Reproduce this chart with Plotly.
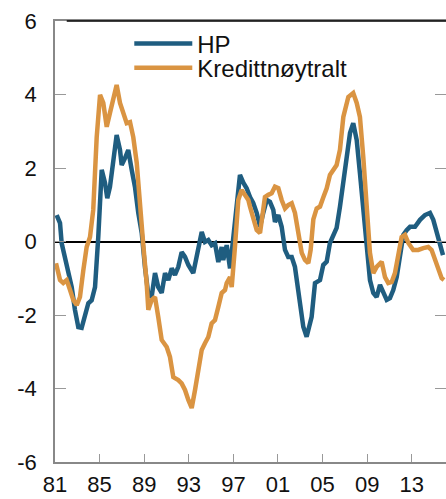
import plotly.graph_objects as go

# HP-filtered gap, decimal years
hp_year = [1981.15, 1981.45, 1981.60, 1981.90, 1982.19, 1982.50, 1982.79, 1983.09, 1983.39, 1983.69,
           1983.99, 1984.29, 1984.59, 1984.88, 1985.19, 1985.48, 1985.69, 1985.93, 1986.23, 1986.53,
           1986.83, 1986.98, 1987.28, 1987.57, 1987.88, 1988.17, 1988.47, 1988.78, 1989.07, 1989.37,
           1989.67, 1989.97, 1990.26, 1990.57, 1990.87, 1991.16, 1991.47, 1991.76, 1992.06, 1992.36,
           1992.66, 1992.96, 1993.40, 1993.71, 1994.16, 1994.45, 1994.75, 1995.05, 1995.35, 1995.65,
           1995.95, 1996.09, 1996.40, 1996.70, 1996.99, 1997.30, 1997.59, 1997.89, 1998.19, 1998.49,
           1998.78, 1999.09, 1999.39, 1999.68, 1999.99, 2000.28, 2000.58, 2000.73, 2001.03, 2001.33,
           2001.63, 2001.92, 2002.23, 2002.52, 2002.82, 2003.13, 2003.27, 2003.57, 2004.02, 2004.32,
           2004.77, 2005.06, 2005.37, 2005.66, 2005.96, 2006.26, 2006.56, 2006.86, 2007.16, 2007.46,
           2007.75, 2008.06, 2008.35, 2008.65, 2008.96, 2009.25, 2009.55, 2009.85, 2010.15, 2010.44,
           2010.75, 2011.04, 2011.34, 2011.65, 2011.94, 2012.24, 2012.54, 2012.84, 2013.29, 2013.74,
           2014.18, 2014.63, 2014.93, 2015.23, 2015.53, 2015.80]
hp_val = [0.72, 0.50, -0.05, -0.42, -0.78, -1.24, -1.86, -2.33, -2.35, -2.05,
          -1.68, -1.60, -1.24, 0.12, 1.95, 1.60, 1.18, 1.49, 2.30, 2.90,
          2.49, 2.08, 2.27, 2.49, 1.95, 1.49, 0.78, 0.23, -0.70, -1.45,
          -1.50, -0.86, -1.24, -1.40, -0.86, -1.05, -0.73, -0.91, -0.69, -0.29,
          -0.42, -0.64, -0.86, -0.42, 0.26, -0.01, 0.04, -0.10, -0.05, -0.56,
          -0.15, -0.50, -0.10, -0.73, 0.12, 1.13, 1.81, 1.60, 1.45, 1.21,
          1.05, 0.78, 0.40, 0.78, 1.13, 1.08, 0.86, 0.53, 0.72, 0.40,
          -0.23, -0.42, -0.42, -0.69, -1.32, -2.14, -2.32, -2.59, -2.05, -1.13,
          -1.05, -0.64, -0.55, -0.04, 0.18, 0.37, 0.95, 1.67, 2.41, 2.95,
          3.22, 2.76, 1.86, 0.78, -0.31, -1.05, -1.40, -1.51, -1.18, -1.40,
          -1.59, -1.54, -1.32, -0.97, -0.31, 0.18, 0.31, 0.40, 0.40, 0.59,
          0.72, 0.78, 0.59, 0.23, -0.15, -0.37]

# Credit-neutral gap
kn_year = [1981.09, 1981.45, 1981.74, 1982.05, 1982.35, 1982.64, 1982.95, 1983.24, 1983.54, 1983.84,
           1984.14, 1984.43, 1984.74, 1985.04, 1985.33, 1985.64, 1985.93, 1986.23, 1986.53, 1986.83,
           1987.13, 1987.43, 1987.73, 1988.02, 1988.33, 1988.62, 1988.92, 1989.22, 1989.37, 1989.67,
           1989.97, 1990.26, 1990.57, 1991.02, 1991.31, 1991.61, 1992.06, 1992.36, 1992.66, 1992.96,
           1993.26, 1993.56, 1993.85, 1994.16, 1994.45, 1994.75, 1995.05, 1995.35, 1995.65, 1995.95,
           1996.25, 1996.40, 1996.70, 1996.85, 1997.14, 1997.44, 1997.74, 1998.04, 1998.34, 1998.49,
           1998.78, 1999.09, 1999.39, 1999.68, 1999.83, 2000.13, 2000.43, 2000.73, 2001.03, 2001.33,
           2001.63, 2001.92, 2002.23, 2002.52, 2002.82, 2003.13, 2003.42, 2003.72, 2003.93, 2004.17,
           2004.47, 2004.77, 2005.06, 2005.37, 2005.66, 2005.96, 2006.26, 2006.56, 2006.86, 2007.31,
           2007.75, 2008.06, 2008.35, 2008.65, 2008.96, 2009.25, 2009.55, 2009.85, 2010.30, 2010.60,
           2010.89, 2011.20, 2011.49, 2011.79, 2012.09, 2012.39, 2012.69, 2013.13, 2013.58, 2014.03,
           2014.48, 2014.78, 2015.08, 2015.38, 2015.68, 2015.89]
kn_val = [-0.59, -1.05, -1.13, -1.05, -1.32, -1.59, -1.73, -1.51, -0.78, -0.15,
          0.12, 0.86, 2.84, 3.99, 3.77, 3.12, 3.50, 3.93, 4.26, 3.77,
          3.44, 3.22, 3.25, 2.84, 2.14, 0.86, -0.10, -1.13, -1.86, -1.59,
          -1.51, -2.05, -2.68, -2.87, -3.14, -3.69, -3.77, -3.86, -4.04, -4.31,
          -4.53, -4.04, -3.41, -2.95, -2.77, -2.60, -2.23, -2.14, -1.78, -1.40,
          -1.32, -1.13, -0.97, -1.24, -0.15, 1.13, 1.40, 1.27, 1.13, 0.95,
          0.67, 0.31, 0.23, 0.78, 1.21, 1.27, 1.31, 1.49, 1.45, 1.13,
          0.90, 0.99, 1.04, 0.78, 0.23, -0.31, -0.50, -0.59, -0.23, 0.60,
          0.90, 0.95, 1.20, 1.45, 1.81, 1.95, 2.08, 2.50, 3.39, 3.93,
          4.04, 3.77, 3.39, 2.30, 0.78, -0.31, -0.86, -0.69, -0.55, -0.97,
          -1.13, -1.10, -0.86, -0.42, 0.12, 0.18, -0.04, -0.23, -0.23, -0.18,
          -0.15, -0.23, -0.50, -0.78, -1.00, -1.05]

tick_years = [1981, 1985, 1989, 1993, 1997, 2001, 2005, 2009, 2013]
tick_text  = ['81', '85', '89', '93', '97', '01', '05', '09', '13']
y_ticks    = [-6, -4, -2, 0, 2, 4, 6]
y_text     = ['-6', '-4', '-2', '0', '2', '4', '6']

blue   = '#1f5d80'
orange = '#da9442'
font   = 'Liberation Sans, Arial, sans-serif'

hpTrace = go.Scatter(x=hp_year, y=hp_val, name='HP', mode='lines',
                     line=dict(color=blue, width=4.5), legend='legend')
knTrace = go.Scatter(x=kn_year, y=kn_val, name='Kredittnøytralt', mode='lines',
                     line=dict(color=orange, width=4.5), legend='legend2')

legend_style = dict(
    xanchor='left', yanchor='middle',
    bgcolor='rgba(0,0,0,0)',
    font=dict(family=font, size=24, color='#111'),
    itemwidth=58,
)

layout = dict(
    width=446,
    height=499,
    margin=dict(l=55, r=0, t=21, b=37, autoexpand=False),
    paper_bgcolor='white',
    plot_bgcolor='white',
    font=dict(family=font, size=22, color='#111'),
    showlegend=True,
    legend=dict(x=0.19, y=0.948, **legend_style),
    legend2=dict(x=0.19, y=0.893, **legend_style),
    xaxis=dict(
        range=[1981, 2016.07],
        tickvals=tick_years,
        ticktext=tick_text,
        ticks='inside', ticklen=8, tickcolor='#999',
        showline=True, linecolor='#888', linewidth=1.5, mirror=True,
        showgrid=False, zeroline=False,
        automargin=False,
        ticklabelstandoff=2,
    ),
    yaxis=dict(
        range=[-6, 6],
        tickvals=y_ticks,
        ticktext=y_text,
        ticks='inside', ticklen=11, tickcolor='#999',
        showline=True, linecolor='#888', linewidth=1.5, mirror='ticks',
        showgrid=False,
        zeroline=True, zerolinecolor='black', zerolinewidth=1.5,
        automargin=False,
        ticklabelstandoff=12,
    ),
    # top frame edge is drawn darker in the original
    shapes=[dict(type='line', xref='paper', yref='paper', x0=0.03, x1=1, y0=1, y1=1,
                 line=dict(color='black', width=1.5))],
)

fig = go.Figure(data=[hpTrace, knTrace], layout=layout)
# drop the browser's default body margin so the figure sits at the page corner
fig.write_html("out.html", config={'displayModeBar': False},
               post_script="document.body.style.margin='0';")
